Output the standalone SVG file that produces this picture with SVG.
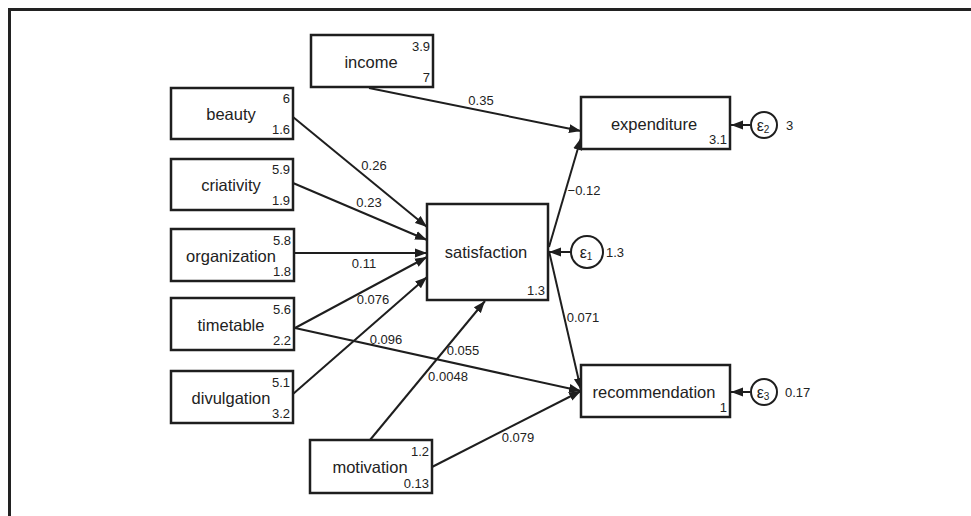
<svg xmlns="http://www.w3.org/2000/svg" width="971" height="516" viewBox="0 0 971 516">
<defs>
<marker id="ah" markerUnits="userSpaceOnUse" markerWidth="13" markerHeight="10" refX="12" refY="5" orient="auto">
<path d="M0,0.5 L12,5 L0,9.5 z" fill="#1e1e1e"/>
</marker>
</defs>
<style>
text{font-family:"Liberation Sans",Arial,sans-serif;fill:#222}
.box{fill:#fff;stroke:#1e1e1e;stroke-width:2.5}
.circ{fill:#fff;stroke:#1e1e1e;stroke-width:2}
.lbl{font-size:16.5px;text-anchor:middle}
.num{font-size:13px;text-anchor:end}
.el{font-size:13px;text-anchor:middle}
.vr{font-size:13px}
.eps{font-size:16px;text-anchor:middle}
.sub{font-size:10px}
.con line{stroke:#1e1e1e;stroke-width:2;marker-end:url(#ah)}
</style>
<rect width="971" height="516" fill="#fff"/>
<path d="M9.5,516 V9.5 H971" fill="none" stroke="#222" stroke-width="3"/>

<g id="connectors" class="con">
<line x1="369" y1="88" x2="581" y2="131"/>
<line x1="293" y1="117" x2="427" y2="227"/>
<line x1="293" y1="183" x2="427" y2="240"/>
<line x1="294" y1="253" x2="427" y2="253"/>
<line x1="295" y1="328" x2="427" y2="257"/>
<line x1="293" y1="394" x2="427" y2="277"/>
<line x1="370" y1="440" x2="485" y2="301"/>
<line x1="295" y1="328" x2="581" y2="391"/>
<line x1="432" y1="467" x2="581" y2="391"/>
<line x1="549" y1="247" x2="581" y2="138"/>
<line x1="549" y1="251" x2="581" y2="390"/>
<line x1="571" y1="252" x2="549" y2="252"/>
<line x1="750" y1="125" x2="731" y2="125"/>
<line x1="750" y1="392" x2="731" y2="392"/>
</g>

<g id="edge-labels">
<text class="el" x="481" y="105">0.35</text>
<text class="el" x="374" y="170">0.26</text>
<text class="el" x="369" y="207">0.23</text>
<text class="el" x="364" y="268">0.11</text>
<text class="el" x="373" y="304">0.076</text>
<text class="el" x="386" y="344">0.096</text>
<text class="el" x="463" y="355">0.055</text>
<text class="el" x="448" y="381">0.0048</text>
<text class="el" x="518" y="442">0.079</text>
<text class="el" x="584" y="195">−0.12</text>
<text class="el" x="583" y="322">0.071</text>
</g>

<g id="income">
<rect class="box" x="311" y="35" width="122" height="52"/>
<text class="lbl" x="371" y="68">income</text>
<text class="num" x="430" y="51">3.9</text>
<text class="num" x="430" y="82">7</text>
</g>
<g id="beauty">
<rect class="box" x="171" y="88" width="122" height="51"/>
<text class="lbl" x="231" y="120">beauty</text>
<text class="num" x="290" y="103">6</text>
<text class="num" x="290" y="134">1.6</text>
</g>
<g id="criativity">
<rect class="box" x="171" y="159" width="122" height="51"/>
<text class="lbl" x="231" y="191">criativity</text>
<text class="num" x="290" y="174">5.9</text>
<text class="num" x="290" y="205">1.9</text>
</g>
<g id="organization">
<rect class="box" x="171" y="229" width="123" height="52"/>
<text class="lbl" x="231" y="262">organization</text>
<text class="num" x="291" y="245">5.8</text>
<text class="num" x="291" y="276">1.8</text>
</g>
<g id="timetable">
<rect class="box" x="171" y="298" width="123" height="52"/>
<text class="lbl" x="231" y="331">timetable</text>
<text class="num" x="291" y="314">5.6</text>
<text class="num" x="291" y="345">2.2</text>
</g>
<g id="divulgation">
<rect class="box" x="171" y="371" width="122" height="52"/>
<text class="lbl" x="231" y="404">divulgation</text>
<text class="num" x="290" y="387">5.1</text>
<text class="num" x="290" y="418">3.2</text>
</g>
<g id="motivation">
<rect class="box" x="310" y="440" width="122" height="53"/>
<text class="lbl" x="370" y="473">motivation</text>
<text class="num" x="429" y="456">1.2</text>
<text class="num" x="429" y="488">0.13</text>
</g>
<g id="satisfaction">
<rect class="box" x="427" y="204" width="121" height="96"/>
<text class="lbl" x="486" y="258">satisfaction</text>
<text class="num" x="545" y="295">1.3</text>
</g>
<g id="expenditure">
<rect class="box" x="581" y="97" width="149" height="52"/>
<text class="lbl" x="654" y="130">expenditure</text>
<text class="num" x="727" y="144">3.1</text>
</g>
<g id="recommendation">
<rect class="box" x="581" y="365" width="149" height="52"/>
<text class="lbl" x="654" y="398">recommendation</text>
<text class="num" x="727" y="412">1</text>
</g>
<g id="e1">
<circle class="circ" cx="587" cy="252" r="16"/>
<text class="eps" x="586" y="258">ε<tspan class="sub" dy="2">1</tspan></text>
<text class="vr" x="606" y="257">1.3</text>
</g>
<g id="e2">
<circle class="circ" cx="764" cy="125" r="13"/>
<text class="eps" x="763" y="131">ε<tspan class="sub" dy="2">2</tspan></text>
<text class="vr" x="786" y="130">3</text>
</g>
<g id="e3">
<circle class="circ" cx="764" cy="392" r="13"/>
<text class="eps" x="763" y="398">ε<tspan class="sub" dy="2">3</tspan></text>
<text class="vr" x="785" y="397">0.17</text>
</g>
</svg>
